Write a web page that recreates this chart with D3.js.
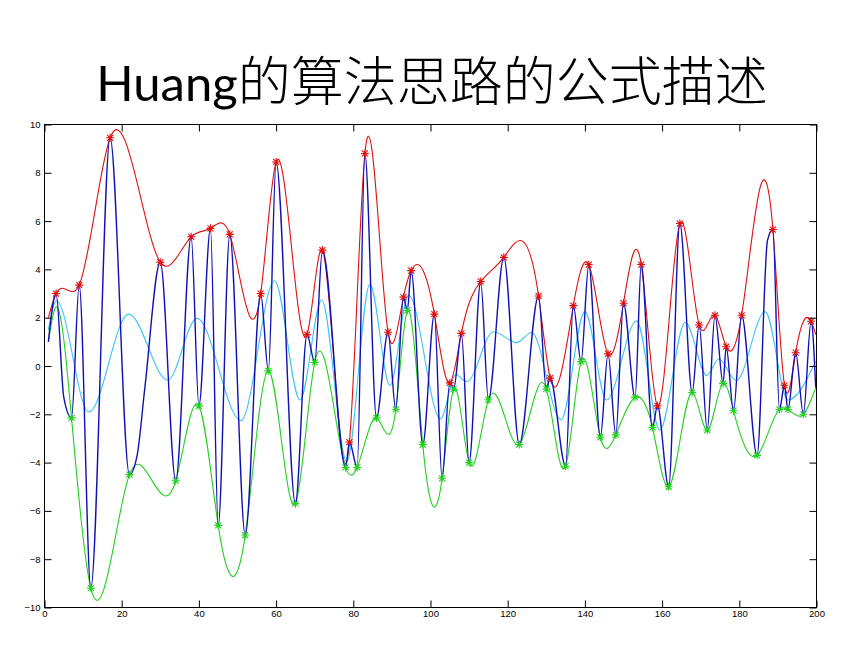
<!DOCTYPE html>
<html><head><meta charset="utf-8">
<script src="https://cdn.jsdelivr.net/npm/d3@7/dist/d3.min.js"></script>
<style>body{margin:0;background:#fff}svg{display:block}</style>
</head><body><svg id="c" width="860" height="645"></svg>
<script>
// ---- data ----
const titleLatin = "Huang";
const titleCJK = "的算法思路的公式描述";
const xTicks = [0,20,40,60,80,100,120,140,160,180,200];
const yTicks = [-10,-8,-6,-4,-2,0,2,4,6,8,10];

// original signal (blue)
const signalX = [1,3,5,7,9,12,17,22,24,26,30,34,38,40,43,45,48,52,56,58,60,65,68,70,72,78,79,81,83,86,89,91,93,94,95,98,101,103,105,106,108,110,113,115,119,123,128,130,131,135,137,139,141,144,146,148,150,153,154.6,157.5,158.8,161.7,164.6,167.8,169.6,171.7,173.7,175.8,176.6,178.5,180.6,184.6,187.3,188.7,190.4,191.7,192.6,194.6,196.6,198.6,199.8];
const signalY = [1.0,3.0,-1.3,-2.15,3.35,-9.2,9.45,-4.5,-3.7,-0.9,4.3,-4.75,5.35,-1.65,5.7,-6.6,5.45,-7.0,3.0,-0.2,8.45,-5.7,1.3,0.15,4.8,-4.2,-3.15,-4.2,8.8,-2.15,1.4,-1.8,2.85,2.3,3.95,-3.25,2.15,-4.65,-0.7,-0.95,1.35,-4.0,3.5,-1.4,4.5,-3.25,2.9,-0.95,-0.5,-4.15,2.5,0.18,4.2,-2.95,0.5,-2.85,2.6,-1.3,4.2,-2.55,-1.65,-5.0,5.9,-1.1,1.7,-2.65,2.1,-0.72,0.8,-1.85,2.1,-3.7,5.2,5.65,-1.8,-0.8,-1.8,0.55,-2.0,1.85,-0.9];

// local maxima (red *)
const maxX = [3,9,17,30,38,43,48,56,60,68,72,79,83,89,93,95,101,105,108,113,119,128,131,137,141,146,150,154.6,158.8,164.6,169.6,173.7,176.6,180.6,188.7,191.7,194.6,198.6];
const maxY = [3.0,3.35,9.45,4.3,5.35,5.7,5.45,3.0,8.45,1.3,4.8,-3.15,8.8,1.4,2.85,3.95,2.15,-0.7,1.35,3.5,4.5,2.9,-0.5,2.5,4.2,0.5,2.6,4.2,-1.65,5.9,1.7,2.1,0.8,2.1,5.65,-0.8,0.55,1.85];
// local minima (green *)
const minX = [7,12,22,34,40,45,52,58,65,70,78,81,86,91,94,98,103,106,110,115,123,130,135,139,144,148,153,157.5,161.7,167.8,171.7,175.8,178.5,184.6,190.4,192.6,196.6];
const minY = [-2.15,-9.2,-4.5,-4.75,-1.65,-6.6,-7.0,-0.2,-5.7,0.15,-4.2,-4.2,-2.15,-1.8,2.3,-3.25,-4.65,-0.95,-4.0,-1.4,-3.25,-0.95,-4.15,0.18,-2.95,-2.85,-1.3,-2.55,-5.0,-1.1,-2.65,-0.72,-1.85,-3.7,-1.8,-1.8,-2.0];

// envelope end anchors
const upperStartX = [1], upperStartY = [2.0];
const upperEndX = [199.8], upperEndY = [1.3];
const lowerStartX = [1, 3], lowerStartY = [1.0, 2.45];
const lowerEndX = [199.8], lowerEndY = [-0.9];

// mean of envelopes (cyan), read at its turning points
const meanX = [1,3.1,11.5,21.8,31.9,39.5,50.9,59.6,66.2,71.8,78.3,84.3,89.5,94.3,102.6,106.5,109.4,116.3,122.3,126.2,133.8,140,145.6,153.4,159.4,166,171.6,174.7,179.2,186.7,192.6,199.8];
const meanY = [1.5,2.7,-1.9,2.15,-0.58,1.97,-2.26,3.53,-1.41,2.73,-3.96,3.38,-0.81,2.94,-2.19,-0.35,-0.65,1.42,0.97,1.39,-2.23,2.25,-1.41,1.87,-2.65,1.81,-0.4,0.29,-0.6,2.25,-1.41,0.2];

// ---- custom D3 curve: cubic spline y(x) (natural end conditions) ----
function SplineX(context){ this._context = context; }
SplineX.prototype = {
  areaStart(){ this._line = 0; },
  areaEnd(){ this._line = NaN; },
  lineStart(){ this._x = []; this._y = []; },
  point(x, y){ this._x.push(+x); this._y.push(+y); },
  lineEnd(){
    const X = this._x, Y = this._y, n = X.length, c = this._context;
    if (!n) return;
    c.moveTo(X[0], Y[0]);
    if (n === 1) return;
    if (n === 2) { c.lineTo(X[1], Y[1]); return; }
    const h = [], M = new Array(n).fill(0);
    for (let i = 0; i < n - 1; i++) h.push(X[i+1] - X[i]);
    // tridiagonal system for second derivatives (natural spline)
    const a = [], b = [], cc = [], d = [];
    for (let i = 1; i < n - 1; i++) {
      a.push(h[i-1]); b.push(2*(h[i-1]+h[i])); cc.push(h[i]);
      d.push(6*((Y[i+1]-Y[i])/h[i] - (Y[i]-Y[i-1])/h[i-1]));
    }
    const m = b.length;
    for (let i = 1; i < m; i++) {
      const w = a[i]/b[i-1];
      b[i] -= w*cc[i-1]; d[i] -= w*d[i-1];
    }
    const sol = new Array(m);
    sol[m-1] = d[m-1]/b[m-1];
    for (let i = m-2; i >= 0; i--) sol[i] = (d[i] - cc[i]*sol[i+1])/b[i];
    for (let i = 0; i < m; i++) M[i+1] = sol[i];
    for (let i = 0; i < n - 1; i++) {
      const hi = h[i], s = (Y[i+1]-Y[i])/hi;
      const d0 = s - hi*(2*M[i] + M[i+1])/6;
      const d1 = s + hi*(M[i] + 2*M[i+1])/6;
      c.bezierCurveTo(X[i] + hi/3, Y[i] + d0*hi/3, X[i+1] - hi/3, Y[i+1] - d1*hi/3, X[i+1], Y[i+1]);
    }
  }
};
const curveSplineX = ctx => new SplineX(ctx);

// ---- drawing ----
const svg = d3.select("#c");
svg.append("rect").attr("width",860).attr("height",645).attr("fill","#fff");

const x = d3.scaleLinear().domain([0,200]).range([44.5,816.5]);
const y = d3.scaleLinear().domain([-10,10]).range([607.5,124.5]);

const zip = (xs, ys) => xs.map((v,i)=>[v, ys[i]]);
const plot = svg.append("g");

const upperPts = zip(upperStartX,upperStartY).concat(zip(maxX,maxY), zip(upperEndX,upperEndY));
const lowerPts = zip(lowerStartX,lowerStartY).concat(zip(minX,minY), zip(lowerEndX,lowerEndY));

const lineSpl = d3.line().x(d=>x(d[0])).y(d=>y(d[1])).curve(curveSplineX);
const lineMono = d3.line().x(d=>x(d[0])).y(d=>y(d[1])).curve(d3.curveMonotoneX);

plot.append("path").attr("d", lineMono(zip(meanX,meanY)))
  .attr("fill","none").attr("stroke","#3cc6f0").attr("stroke-width",1.1);
plot.append("path").attr("d", lineSpl(upperPts))
  .attr("fill","none").attr("stroke","#e01010").attr("stroke-width",1.1);
plot.append("path").attr("d", lineSpl(lowerPts))
  .attr("fill","none").attr("stroke","#22d022").attr("stroke-width",1.1);
plot.append("path").attr("d", lineMono(zip(signalX,signalY)))
  .attr("fill","none").attr("stroke","#1010b8").attr("stroke-width",1.4);

const star = "M-4,0H4M0,-4V4M-3,-3L3,3M-3,3L3,-3";
plot.selectAll(".mx").data(zip(maxX,maxY)).join("path")
  .attr("d",star).attr("transform",d=>`translate(${x(d[0])},${y(d[1])})`)
  .attr("stroke","#e01010").attr("stroke-width",1.1).attr("fill","none");
plot.selectAll(".mn").data(zip(minX,minY)).join("path")
  .attr("d",star).attr("transform",d=>`translate(${x(d[0])},${y(d[1])})`)
  .attr("stroke","#22d022").attr("stroke-width",1.1).attr("fill","none");

// axes
const fontAx = "'Liberation Sans Narrow','Arial Narrow','Liberation Sans',Arial,sans-serif";
const styleAxis = g => {
  g.select(".domain").remove();
  g.selectAll("line").attr("stroke","#000");
  g.selectAll("text").attr("font-family",fontAx).attr("font-size",9.5).attr("fill","#000");
};
svg.append("g").attr("transform","translate(0,607.5)")
  .call(d3.axisBottom(x).tickValues(xTicks).tickSize(-7).tickSizeOuter(0).tickPadding(3).tickFormat(d3.format("d")))
  .call(styleAxis);
svg.append("g").attr("transform","translate(0,124.5)")
  .call(d3.axisTop(x).tickValues(xTicks).tickSize(-7).tickSizeOuter(0).tickFormat(""))
  .call(styleAxis);
svg.append("g").attr("transform","translate(44.5,0)")
  .call(d3.axisLeft(y).tickValues(yTicks).tickSize(-7).tickSizeOuter(0).tickPadding(4).tickFormat(d3.format("d")))
  .call(styleAxis);
svg.append("g").attr("transform","translate(816.5,0)")
  .call(d3.axisRight(y).tickValues(yTicks).tickSize(-7).tickSizeOuter(0).tickFormat(""))
  .call(styleAxis);
svg.append("rect").attr("x",44.5).attr("y",124.5).attr("width",772).attr("height",483)
  .attr("fill","none").attr("stroke","#000").attr("stroke-width",1);

// title
const t = svg.append("text").attr("x",432).attr("y",101).attr("text-anchor","middle").attr("fill","#000");
t.append("tspan").attr("font-family","Lato,'Open Sans',sans-serif").attr("font-size",49).text(titleLatin);
t.append("tspan").attr("font-family","'Noto Sans CJK SC',sans-serif").attr("font-weight",300).attr("font-size",53).text(titleCJK);
</script></body></html>
